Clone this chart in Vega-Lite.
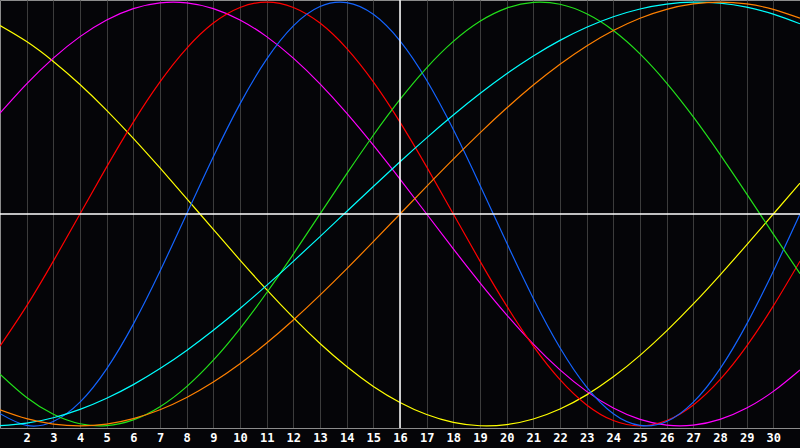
{
  "$schema": "https://vega.github.io/schema/vega-lite/v6.json",
  "description": "Biorhythm chart, days 1-31",
  "width": 800,
  "height": 428,
  "autosize": "none",
  "padding": {"left": 0, "top": 0, "right": 0, "bottom": 20},
  "background": "#050508",
  "datasets": {
    "rhythms": [
      {"day": 1, "physical": -0.9423, "emotional": -0.6235, "intellectual": -0.7557, "intuitive": 0.4759, "aesthetic": 0.8893, "awareness": -0.9239, "spiritual": -0.9991},
      {"day": 2, "physical": -0.9977, "emotional": -0.4339, "intellectual": -0.866, "intuitive": 0.6142, "aesthetic": 0.8136, "awareness": -0.9659, "spiritual": -0.9872},
      {"day": 3, "physical": -0.9791, "emotional": -0.2225, "intellectual": -0.945, "intuitive": 0.7357, "aesthetic": 0.7199, "awareness": -0.9914, "spiritual": -0.9615},
      {"day": 4, "physical": -0.8879, "emotional": 0, "intellectual": -0.9898, "intuitive": 0.8372, "aesthetic": 0.6112, "awareness": -1, "spiritual": -0.9222},
      {"day": 5, "physical": -0.7308, "emotional": 0.2225, "intellectual": -0.9989, "intuitive": 0.9158, "aesthetic": 0.4894, "awareness": -0.9914, "spiritual": -0.8699},
      {"day": 6, "physical": -0.5196, "emotional": 0.4339, "intellectual": -0.9718, "intuitive": 0.9694, "aesthetic": 0.3572, "awareness": -0.9659, "spiritual": -0.8053},
      {"day": 7, "physical": -0.2698, "emotional": 0.6235, "intellectual": -0.9096, "intuitive": 0.9966, "aesthetic": 0.2174, "awareness": -0.9239, "spiritual": -0.7296},
      {"day": 8, "physical": 0, "emotional": 0.7818, "intellectual": -0.8146, "intuitive": 0.9966, "aesthetic": 0.073, "awareness": -0.866, "spiritual": -0.6438},
      {"day": 9, "physical": 0.2698, "emotional": 0.901, "intellectual": -0.6901, "intuitive": 0.9694, "aesthetic": -0.073, "awareness": -0.7934, "spiritual": -0.5488},
      {"day": 10, "physical": 0.5196, "emotional": 0.9749, "intellectual": -0.5406, "intuitive": 0.9158, "aesthetic": -0.2174, "awareness": -0.7071, "spiritual": -0.4461},
      {"day": 11, "physical": 0.7308, "emotional": 1, "intellectual": -0.3717, "intuitive": 0.8372, "aesthetic": -0.3572, "awareness": -0.6088, "spiritual": -0.3371},
      {"day": 12, "physical": 0.8879, "emotional": 0.9749, "intellectual": -0.1893, "intuitive": 0.7357, "aesthetic": -0.4894, "awareness": -0.5, "spiritual": -0.2234},
      {"day": 13, "physical": 0.9791, "emotional": 0.901, "intellectual": 0, "intuitive": 0.6142, "aesthetic": -0.6112, "awareness": -0.3827, "spiritual": -0.1065},
      {"day": 14, "physical": 0.9977, "emotional": 0.7818, "intellectual": 0.1893, "intuitive": 0.4759, "aesthetic": -0.7199, "awareness": -0.2588, "spiritual": 0.0119},
      {"day": 15, "physical": 0.9423, "emotional": 0.6235, "intellectual": 0.3717, "intuitive": 0.3247, "aesthetic": -0.8136, "awareness": -0.1305, "spiritual": 0.13},
      {"day": 16, "physical": 0.817, "emotional": 0.4339, "intellectual": 0.5406, "intuitive": 0.1646, "aesthetic": -0.8893, "awareness": 0, "spiritual": 0.2464},
      {"day": 17, "physical": 0.6311, "emotional": 0.2225, "intellectual": 0.6901, "intuitive": 0, "aesthetic": -0.9464, "awareness": 0.1305, "spiritual": 0.3593},
      {"day": 18, "physical": 0.3984, "emotional": 0, "intellectual": 0.8146, "intuitive": -0.1646, "aesthetic": -0.9834, "awareness": 0.2588, "spiritual": 0.4671},
      {"day": 19, "physical": 0.1362, "emotional": -0.2225, "intellectual": 0.9096, "intuitive": -0.3247, "aesthetic": -0.9993, "awareness": 0.3827, "spiritual": 0.5684},
      {"day": 20, "physical": -0.1362, "emotional": -0.4339, "intellectual": 0.9718, "intuitive": -0.4759, "aesthetic": -0.994, "awareness": 0.5, "spiritual": 0.6618},
      {"day": 21, "physical": -0.3984, "emotional": -0.6235, "intellectual": 0.9989, "intuitive": -0.6142, "aesthetic": -0.9675, "awareness": 0.6088, "spiritual": 0.7459},
      {"day": 22, "physical": -0.6311, "emotional": -0.7818, "intellectual": 0.9898, "intuitive": -0.7357, "aesthetic": -0.9204, "awareness": 0.7071, "spiritual": 0.8195},
      {"day": 23, "physical": -0.817, "emotional": -0.901, "intellectual": 0.945, "intuitive": -0.8372, "aesthetic": -0.8536, "awareness": 0.7934, "spiritual": 0.8814},
      {"day": 24, "physical": -0.9423, "emotional": -0.9749, "intellectual": 0.866, "intuitive": -0.9158, "aesthetic": -0.7686, "awareness": 0.866, "spiritual": 0.9311},
      {"day": 25, "physical": -0.9977, "emotional": -1, "intellectual": 0.7557, "intuitive": -0.9694, "aesthetic": -0.6673, "awareness": 0.9239, "spiritual": 0.9677},
      {"day": 26, "physical": -0.9791, "emotional": -0.9749, "intellectual": 0.6182, "intuitive": -0.9966, "aesthetic": -0.5517, "awareness": 0.9659, "spiritual": 0.9907},
      {"day": 27, "physical": -0.8879, "emotional": -0.901, "intellectual": 0.4582, "intuitive": -0.9966, "aesthetic": -0.4245, "awareness": 0.9914, "spiritual": 0.9998},
      {"day": 28, "physical": -0.7308, "emotional": -0.7818, "intellectual": 0.2817, "intuitive": -0.9694, "aesthetic": -0.2881, "awareness": 1, "spiritual": 0.9949},
      {"day": 29, "physical": -0.5196, "emotional": -0.6235, "intellectual": 0.0951, "intuitive": -0.9158, "aesthetic": -0.1456, "awareness": 0.9914, "spiritual": 0.976},
      {"day": 30, "physical": -0.2698, "emotional": -0.4339, "intellectual": -0.0951, "intuitive": -0.8372, "aesthetic": 0, "awareness": 0.9659, "spiritual": 0.9434},
      {"day": 31, "physical": 0, "emotional": -0.2225, "intellectual": -0.2817, "intuitive": -0.7357, "aesthetic": 0.1456, "awareness": 0.9239, "spiritual": 0.8976}
    ],
    "baseline": [{"day": 1, "value": 0}, {"day": 31, "value": 0}]
  },
  "encoding": {
    "x": {
      "field": "day",
      "type": "quantitative",
      "scale": {"domain": [1, 31], "nice": false, "zero": false},
      "axis": {
        "values": [2, 3, 4, 5, 6, 7, 8, 9, 10, 11, 12, 13, 14, 15, 16, 17, 18, 19, 20, 21, 22, 23, 24, 25, 26, 27, 28, 29, 30],
        "title": null,
        "ticks": false,
        "domain": true,
        "domainColor": "#8c8c8c",
        "grid": true,
        "gridColor": "#3c3c3c",
        "gridWidth": 1,
        "labelOverlap": false,
        "labelFlush": false,
        "labelSeparation": 0,
        "labelColor": "#ffffff",
        "labelFont": "DejaVu Sans Mono",
        "labelFontWeight": "bold",
        "labelFontSize": 12,
        "labelPadding": 4,
        "labelBaseline": "top"
      }
    }
  },
  "layer": [
    {
      "data": {"name": "rhythms"},
      "transform": [
        {"fold": ["aesthetic", "intuitive", "emotional", "physical", "intellectual", "spiritual", "awareness"], "as": ["rhythm", "value"]}
      ],
      "mark": {"type": "line", "strokeWidth": 1.2, "interpolate": "natural"},
      "encoding": {
        "y": {
          "field": "value",
          "type": "quantitative",
          "scale": {"domain": [-1.01, 1.01], "nice": false, "zero": false},
          "axis": null
        },
        "color": {
          "field": "rhythm",
          "type": "nominal",
          "scale": {
            "domain": ["physical", "emotional", "intellectual", "intuitive", "aesthetic", "awareness", "spiritual"],
            "range": ["#1464ff", "#ff0000", "#22e01a", "#ff00ff", "#ffff00", "#ff8000", "#00ffff"]
          },
          "legend": null
        }
      }
    },
    {
      "data": {"name": "rhythms"},
      "transform": [{"filter": "datum.day == 16"}],
      "mark": {"type": "rule", "color": "#ffffff", "strokeWidth": 1.5},
      "encoding": {}
    },
    {
      "data": {"name": "baseline"},
      "mark": {"type": "line", "color": "#ffffff", "strokeWidth": 1.5},
      "encoding": {
        "y": {"field": "value", "type": "quantitative"}
      }
    }
  ],
  "config": {
    "view": {"stroke": "#8c8c8c", "strokeWidth": 1}
  }
}
